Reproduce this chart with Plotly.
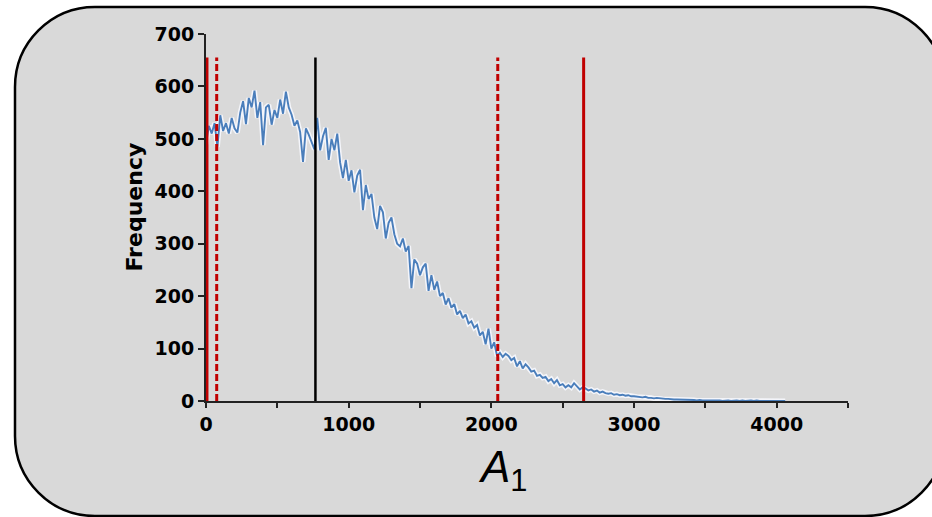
import plotly.graph_objects as go

# ---------------- data ----------------
bin_width = 20
frequency = [
    490, 525, 510, 530, 485, 545, 515, 530, 510, 540,   # 0-180
    520, 512, 550, 572, 528, 578, 560, 592, 540, 570,   # 200-380
    488, 560, 565, 527, 555, 540, 575, 548, 590, 560,   # 400-580
    546, 525, 535, 513, 456, 520, 508, 494, 480, 540,   # 600-780
    478, 505, 521, 460, 500, 478, 510, 455, 425, 460,   # 800-980
    420, 440, 398, 430, 441, 364, 412, 385, 395, 350,   # 1000-1180
    328, 372, 360, 310, 340, 350, 318, 300, 295, 310,   # 1200-1380
    285, 296, 215, 270, 262, 240, 255, 262, 210, 240,   # 1400-1580
    212, 228, 200, 206, 184, 196, 178, 185, 165, 172,   # 1600-1780
    158, 165, 148, 152, 140, 145, 125, 132, 108, 138,   # 1800-1980
    100, 112, 86, 92, 84, 90, 86, 78, 82, 66,           # 2000-2180
    76, 62, 70, 64, 56, 58, 48, 50, 44, 46,             # 2200-2380
    38, 42, 34, 40, 30, 32, 26, 30, 26, 34,             # 2400-2580
    27, 22, 26, 24, 20, 22, 18, 20, 16, 18,             # 2600-2780
    15, 14, 15, 12, 13, 11, 12, 10, 11, 9,              # 2800-2980
    9, 8, 8, 7, 8, 6, 6, 5, 6, 5,                       # 3000-3180
    4, 4, 4, 3, 3, 3, 3, 2, 2, 2,                       # 3200-3380
    2, 2, 1, 2, 1, 1, 2, 1, 1, 1,                       # 3400-3580
    1, 0, 1, 1, 0, 1, 1, 0, 1, 0,                       # 3600-3780
    1, 1, 0, 1, 0, 0, 1, 0, 1, 0,                       # 3800-3980
    0, 1, 0, 0                                          # 4000-4060
]
bins = [i * bin_width for i in range(len(frequency))]

# vertical marker lines
marker_pos = [5, 75, 767, 2045, 2647]
marker_col = ["#c00000", "#c00000", "#000000", "#c00000", "#c00000"]
marker_dash = ["solid", "7px,3px", "solid", "7px,3px", "solid"]
marker_width = [3.5, 3, 2.5, 3, 3]
marker_top = 655

x_ticks = [0, 1000, 2000, 3000, 4000]
y_ticks = [0, 100, 200, 300, 400, 500, 600, 700]

# ---------------- figure ----------------
W, H = 932, 517
L, R, T, B = 206, 84, 34, 116
pw, ph = W - L - R, H - T - B

fig = go.Figure()
fig.add_trace(go.Scatter(x=bins, y=frequency, mode="lines",
                         line=dict(color="rgba(245,247,252,0.95)", width=5),
                         hoverinfo="skip", showlegend=False))
fig.add_trace(go.Scatter(x=bins, y=frequency, mode="lines",
                         line=dict(color="#4a7ebb", width=1.9),
                         showlegend=False))
for p, c, d, w in zip(marker_pos, marker_col, marker_dash, marker_width):
    fig.add_trace(go.Scatter(x=[p, p], y=[0, marker_top], mode="lines",
                             line=dict(color=c, dash=d, width=w),
                             showlegend=False))

# rounded background rectangle (pixel coords -> paper coords)
def px(x):
    return (x - L) / pw

def py(y):
    return (H - B - y) / ph

x0, x1, y0, y1, r = 15, 945, 7, 516, 80
k = 0.5523 * r
path = (
    f"M {px(x0 + r)} {py(y0)} L {px(x1 - r)} {py(y0)} "
    f"C {px(x1 - r + k)} {py(y0)} {px(x1)} {py(y0 + r - k)} {px(x1)} {py(y0 + r)} "
    f"L {px(x1)} {py(y1 - r)} "
    f"C {px(x1)} {py(y1 - r + k)} {px(x1 - r + k)} {py(y1)} {px(x1 - r)} {py(y1)} "
    f"L {px(x0 + r)} {py(y1)} "
    f"C {px(x0 + r - k)} {py(y1)} {px(x0)} {py(y1 - r + k)} {px(x0)} {py(y1 - r)} "
    f"L {px(x0)} {py(y0 + r)} "
    f"C {px(x0)} {py(y0 + r - k)} {px(x0 + r - k)} {py(y0)} {px(x0 + r)} {py(y0)} Z"
)
fig.add_shape(type="path", path=path, xref="paper", yref="paper",
              fillcolor="#d9d9d9", line=dict(color="#000000", width=2.5),
              layer="below")

tickfont = dict(family="DejaVu Sans, sans-serif", size=19,
                color="#000000", weight="bold")

fig.update_layout(
    width=W, height=H,
    margin=dict(l=L, r=R, t=T, b=B, pad=0),
    paper_bgcolor="#ffffff",
    plot_bgcolor="rgba(0,0,0,0)",
    showlegend=False,
    xaxis=dict(range=[0, 4500], tickvals=x_ticks,
               ticks="outside", ticklen=5, tickwidth=1.5, tickcolor="#222",
               minor=dict(dtick=500, tick0=0, ticks="outside", ticklen=5,
                          tickwidth=1.5, tickcolor="#222", showgrid=False),
               showline=True, linecolor="#222", linewidth=2,
               showgrid=False, zeroline=False, tickfont=tickfont),
    yaxis=dict(range=[0, 700], tickvals=y_ticks,
               ticks="outside", ticklen=6, tickwidth=1.5, tickcolor="#222",
               showline=True, linecolor="#222", linewidth=2,
               showgrid=False, zeroline=False, tickfont=tickfont,
               ticklabelstandoff=0),
    annotations=[
        dict(text="Frequency", xref="paper", yref="paper", x=0, y=0.5,
             xshift=-72, yshift=10, textangle=-90, showarrow=False,
             xanchor="center", yanchor="middle",
             font=dict(family="DejaVu Sans, sans-serif", size=22,
                       color="#000000", weight="bold")),
        dict(text="<i>A</i><sub>1</sub>", xref="paper", yref="paper",
             x=px(503), y=py(470), showarrow=False,
             xanchor="center", yanchor="middle",
             font=dict(family="Liberation Sans, Arial, sans-serif", size=44,
                       color="#000000")),
    ],
)

fig.write_html("out.html",
               config={"displayModeBar": False},
               post_script="document.body.style.margin='0';"
                           "document.body.style.padding='0';")
